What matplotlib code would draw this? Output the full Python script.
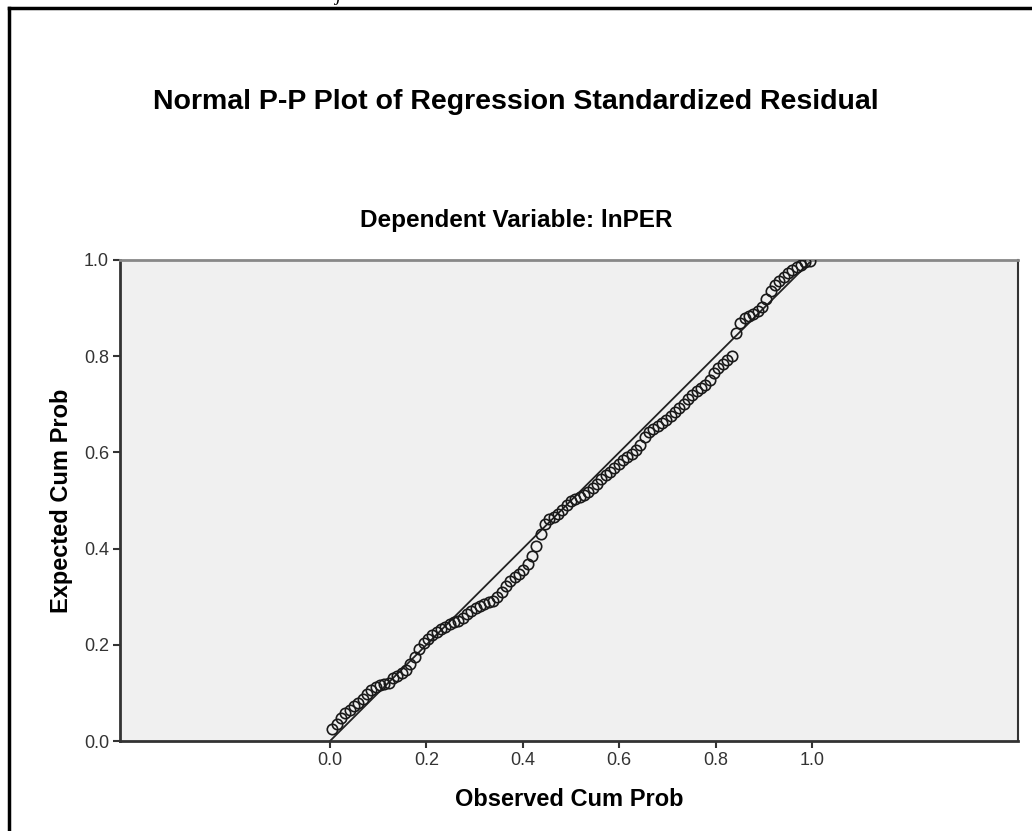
import matplotlib
matplotlib.use("Agg")
import matplotlib.pyplot as plt
from matplotlib.lines import Line2D

plt.rcParams['font.family'] = ['Liberation Sans', 'DejaVu Sans']

title = "Normal P-P Plot of Regression Standardized Residual"
subtitle = "Dependent Variable: lnPER"
xlabel = "Observed Cum Prob"
ylabel = "Expected Cum Prob"
tick_values = [0.0, 0.2, 0.4, 0.6, 0.8, 1.0]
tick_labels = ["0.0", "0.2", "0.4", "0.6", "0.8", "1.0"]

observed = [0.005, 0.014, 0.023, 0.032, 0.041, 0.050, 0.059, 0.068, 0.077, 0.086,
            0.095, 0.104, 0.113, 0.122, 0.131, 0.140, 0.149, 0.158, 0.167, 0.176,
            0.185, 0.194, 0.203, 0.212, 0.221, 0.230, 0.239, 0.248, 0.257, 0.266,
            0.275, 0.284, 0.293, 0.302, 0.311, 0.320, 0.329, 0.338, 0.347, 0.356,
            0.365, 0.374, 0.383, 0.392, 0.401, 0.410, 0.419, 0.428, 0.437, 0.446,
            0.455, 0.464, 0.473, 0.482, 0.491, 0.500, 0.509, 0.518, 0.527, 0.536,
            0.545, 0.554, 0.563, 0.572, 0.581, 0.590, 0.599, 0.608, 0.617, 0.626,
            0.635, 0.644, 0.653, 0.662, 0.671, 0.680, 0.689, 0.698, 0.707, 0.716,
            0.725, 0.734, 0.743, 0.752, 0.761, 0.770, 0.779, 0.788, 0.797, 0.806,
            0.815, 0.824, 0.833, 0.842, 0.851, 0.860, 0.869, 0.878, 0.887, 0.896,
            0.905, 0.914, 0.923, 0.932, 0.941, 0.950, 0.959, 0.968, 0.977, 0.986,
            0.995]
expected = [0.025, 0.035, 0.048, 0.058, 0.065, 0.072, 0.080, 0.088, 0.097, 0.106,
            0.112, 0.116, 0.118, 0.121, 0.130, 0.136, 0.142, 0.148, 0.160, 0.175,
            0.192, 0.204, 0.212, 0.220, 0.226, 0.232, 0.238, 0.244, 0.247, 0.250,
            0.256, 0.263, 0.270, 0.276, 0.280, 0.284, 0.288, 0.292, 0.300, 0.310,
            0.322, 0.332, 0.340, 0.348, 0.356, 0.368, 0.385, 0.405, 0.430, 0.452,
            0.462, 0.466, 0.472, 0.480, 0.490, 0.498, 0.504, 0.508, 0.512, 0.518,
            0.526, 0.535, 0.545, 0.553, 0.560, 0.568, 0.576, 0.584, 0.590, 0.596,
            0.604, 0.615, 0.632, 0.642, 0.648, 0.655, 0.662, 0.668, 0.675, 0.684,
            0.692, 0.700, 0.710, 0.720, 0.728, 0.734, 0.740, 0.750, 0.765, 0.775,
            0.784, 0.792, 0.800, 0.848, 0.868, 0.880, 0.884, 0.888, 0.894, 0.902,
            0.918, 0.935, 0.948, 0.956, 0.964, 0.972, 0.980, 0.986, 0.990, 0.995,
            0.998]
ref_line = [0.0, 1.0]

fig = plt.figure(figsize=(10.32, 8.31), dpi=100)
ax = fig.add_axes([120/1032, 90/831, 898/1032, 481/831])
ax.set_facecolor('#F0F0F0')

ax.plot(ref_line, ref_line, color='#222222', lw=1.3, zorder=2)
ax.plot(observed, expected, linestyle='none', marker='o', markersize=7.5,
        markerfacecolor='none', markeredgecolor='#1a1a1a', markeredgewidth=1.2, zorder=3)

ax.set_xlim(-0.4357, 1.4274)
ax.set_ylim(0.0, 1.0)
ax.set_xticks(tick_values)
ax.set_xticklabels(tick_labels)
ax.set_yticks(tick_values)
ax.set_yticklabels(tick_labels)
ax.tick_params(direction='out', length=5, width=1.5, colors='#333333',
               labelsize=13, pad=3)
for s in ['left', 'bottom']:
    ax.spines[s].set_color('#333333')
    ax.spines[s].set_linewidth(2)
ax.spines['top'].set_color('#888888')
ax.spines['top'].set_linewidth(2)
ax.spines['right'].set_color('#333333')
ax.spines['right'].set_linewidth(1.5)

ax.set_xlabel(xlabel, fontsize=17, fontweight='bold')
ax.set_ylabel(ylabel, fontsize=17, fontweight='bold')
ax.xaxis.set_label_coords(0.5, (741 - 800) / 481)
ax.yaxis.set_label_coords((62 - 120) / 898, 0.5)
ax.xaxis.label.set_va('center')
ax.yaxis.label.set_va('center')

fig.text(516/1032, 1 - 102/831, title, fontsize=20.5, fontweight='bold',
         ha='center', va='center')
fig.text(516/1032, 1 - 220/831, subtitle, fontsize=17.5, fontweight='bold',
         ha='center', va='center')

# outer frame lines
fig.add_artist(Line2D([9/1032, 9/1032], [0, 1 - 7.5/831], color='black', lw=2.5,
                      transform=fig.transFigure))
fig.add_artist(Line2D([9/1032, 1], [1 - 7.5/831, 1 - 7.5/831], color='black', lw=2.5,
                      transform=fig.transFigure))
# clipped letter from above (partially visible in the reference)
fig.text(338/1032, 1 - 1/831, "j", fontsize=14, fontstyle='italic',
         ha='center', va='baseline', family='Liberation Serif')

fig.savefig("out.png", dpi=100)
